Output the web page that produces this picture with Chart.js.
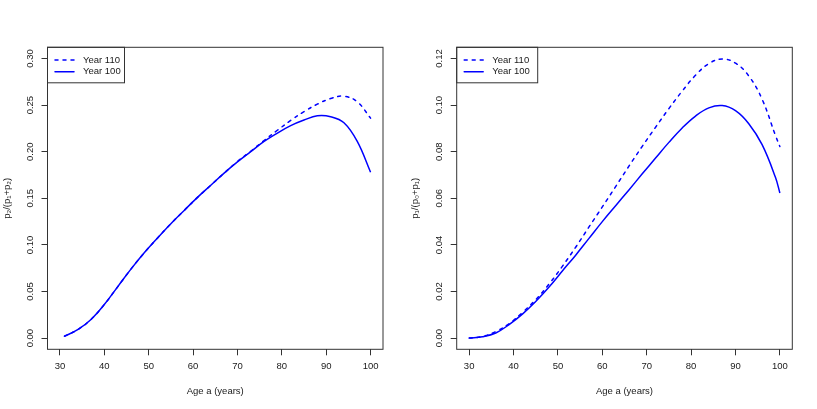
<!DOCTYPE html>
<html>
<head>
<meta charset="utf-8">
<script src="https://cdn.jsdelivr.net/npm/chart.js@4.4.0/dist/chart.umd.min.js"></script>
<style>
  body { margin: 0; background: #ffffff; }
  #leftWrap { position: absolute; left: 0; top: 0; width: 408px; height: 409px; }
  #rightWrap { position: absolute; left: 408px; top: 0; width: 409px; height: 409px; }
</style>
</head>
<body>
<div id="leftWrap"><canvas id="leftChart" width="408" height="409"></canvas></div>
<div id="rightWrap"><canvas id="rightChart" width="409" height="409"></canvas></div>
<script>
// left panel: p2/(p1+p2)
var ageLeft = [31, 34, 37, 40, 43, 46, 49, 52, 55, 58, 61, 64, 67, 70, 73, 76, 79, 82, 85, 88, 91, 94, 97, 100];
var year100Left = [0.002, 0.009, 0.020, 0.036, 0.055, 0.074, 0.0915, 0.1075, 0.1228, 0.137, 0.151, 0.164, 0.177, 0.189, 0.200, 0.211, 0.220, 0.228, 0.234, 0.2385, 0.2375, 0.231, 0.211, 0.178];
var year110Left = [0.002, 0.009, 0.020, 0.036, 0.055, 0.074, 0.0915, 0.1075, 0.1228, 0.137, 0.151, 0.164, 0.177, 0.1895, 0.2005, 0.212, 0.223, 0.2335, 0.243, 0.251, 0.257, 0.2595, 0.2535, 0.236];

// right panel: p1/(p0+p1)
var ageRight = [30, 33, 36, 39, 42, 45, 48, 51, 54, 57, 60, 63, 66, 69, 72, 75, 78, 81, 84, 87, 90, 93, 96, 99, 100];
var year100Right = [0.0000, 0.0006, 0.0022, 0.0058, 0.0103, 0.0157, 0.0219, 0.0288, 0.0356, 0.0428, 0.0500, 0.0568, 0.0636, 0.0705, 0.0773, 0.0840, 0.0902, 0.0953, 0.0988, 0.0998, 0.0976, 0.0920, 0.0830, 0.0690, 0.0623];
var year110Right = [0.0000, 0.0007, 0.0028, 0.0062, 0.0110, 0.0165, 0.0232, 0.0308, 0.0390, 0.0477, 0.0563, 0.0650, 0.0738, 0.0823, 0.0905, 0.0985, 0.1060, 0.1128, 0.1178, 0.1198, 0.1180, 0.1125, 0.1025, 0.0870, 0.0822];

var xTicks = [30, 40, 50, 60, 70, 80, 90, 100];
var yTicksLeft = [0, 0.05, 0.10, 0.15, 0.20, 0.25, 0.30];
var yTicksRight = [0, 0.02, 0.04, 0.06, 0.08, 0.10, 0.12];

var seriesLabels = ['Year 110', 'Year 100'];
var xTitle = 'Age a (years)';

var fontName = '"Liberation Sans", Arial, Helvetica, sans-serif';
var textColor = '#1a1a1a';

function toPoints(xs, ys) {
    var pts = [];
    for (var i = 0; i < xs.length; i++) {
        pts.push({ x: xs[i], y: ys[i] });
    }
    return pts;
}

// box round the plot region plus an R style legend in the top left corner
var boxPlugin = {
    id: 'rbox',
    afterDraw: function (chart, args, opts) {
        var ctx = chart.ctx;
        var a = chart.chartArea;
        ctx.save();
        ctx.strokeStyle = '#333333';
        ctx.lineWidth = 1;
        ctx.strokeRect(a.left, a.top, a.right - a.left, a.bottom - a.top);

        // legend
        var lx = a.left, ly = a.top;
        ctx.strokeRect(lx, ly, opts.width, 35.5);
        ctx.font = '9.5px ' + fontName;
        ctx.textBaseline = 'middle';
        var ds = chart.data.datasets;
        for (var i = 0; i < ds.length; i++) {
            var yy = ly + 12.7 + i * 11.7;
            ctx.beginPath();
            ctx.strokeStyle = ds[i].borderColor;
            ctx.lineWidth = ds[i].borderWidth;
            ctx.lineCap = 'round';
            ctx.setLineDash(ds[i].borderDash || []);
            ctx.moveTo(lx + 7.5, yy);
            ctx.lineTo(lx + 26.5, yy);
            ctx.stroke();
            ctx.setLineDash([]);
            ctx.fillStyle = textColor;
            ctx.fillText(ds[i].label, lx + 35.5, yy);
        }
        ctx.restore();
    }
};

function makeChart(canvasId, xs, dashedVals, solidVals, yTicks, yMin, yMax, yTitle, yWidth, padRight, legendWidth) {
    var ctx = document.getElementById(canvasId).getContext('2d');
    return new Chart(ctx, {
        type: 'line',
        data: {
            datasets: [{
                label: seriesLabels[0],
                data: toPoints(xs, dashedVals),
                borderColor: '#0000ff',
                borderWidth: 1.5,
                borderDash: [3, 5],
                borderCapStyle: 'round',
                pointRadius: 0,
                tension: 0.4,
                fill: false
            },
            {
                label: seriesLabels[1],
                data: toPoints(xs, solidVals),
                borderColor: '#0000ff',
                borderWidth: 1.5,
                pointRadius: 0,
                tension: 0.4,
                fill: false
            }]
        },
        options: {
            responsive: false,
            animation: false,
            devicePixelRatio: 1,
            layout: { padding: { left: 0, top: 47.3, right: padRight, bottom: 0 } },
            plugins: {
                legend: { display: false },
                tooltip: { enabled: false },
                rbox: { width: legendWidth }
            },
            scales: {
                x: {
                    type: 'linear',
                    min: 27.2,
                    max: 102.8,
                    afterBuildTicks: function (scale) {
                        scale.ticks = xTicks.map(function (v) { return { value: v }; });
                    },
                    afterFit: function (scale) { scale.height = 59.7; },
                    grid: { drawOnChartArea: false, drawTicks: true, tickLength: 6, tickColor: '#333333' },
                    border: { display: false },
                    ticks: {
                        color: textColor,
                        font: { family: fontName, size: 9.5 },
                        padding: 5,
                        maxRotation: 0,
                        autoSkip: false,
                        callback: function (v) { return String(v); }
                    },
                    title: {
                        display: true,
                        text: xTitle,
                        color: textColor,
                        font: { family: fontName, size: 9.5 },
                        padding: { top: 0, bottom: 12.3 }
                    }
                },
                y: {
                    type: 'linear',
                    min: yMin,
                    max: yMax,
                    afterBuildTicks: function (scale) {
                        scale.ticks = yTicks.map(function (v) { return { value: v }; });
                    },
                    afterFit: function (scale) { scale.width = yWidth; },
                    grid: { drawOnChartArea: false, drawTicks: true, tickLength: 6, tickColor: '#333333' },
                    border: { display: false },
                    ticks: {
                        color: textColor,
                        font: { family: fontName, size: 9.5 },
                        padding: 2,
                        minRotation: 90,
                        maxRotation: 90,
                        crossAlign: 'center',
                        autoSkip: false,
                        callback: function (v) { return v.toFixed(2); }
                    },
                    title: {
                        display: true,
                        text: yTitle,
                        color: textColor,
                        font: { family: fontName, size: 9.5 },
                        padding: { top: 2, bottom: 0 }
                    }
                }
            }
        },
        plugins: [boxPlugin]
    });
}

var leftChart = makeChart('leftChart', ageLeft, year110Left, year100Left, yTicksLeft, -0.012, 0.312,
    'p\u2082/(p\u2081+p\u2082)', 47.5, 25, 77);
var rightChart = makeChart('rightChart', ageRight, year110Right, year100Right, yTicksRight, -0.0048, 0.1248,
    'p\u2081/(p\u2080+p\u2081)', 48.7, 24.7, 81);
</script>
</body>
</html>
